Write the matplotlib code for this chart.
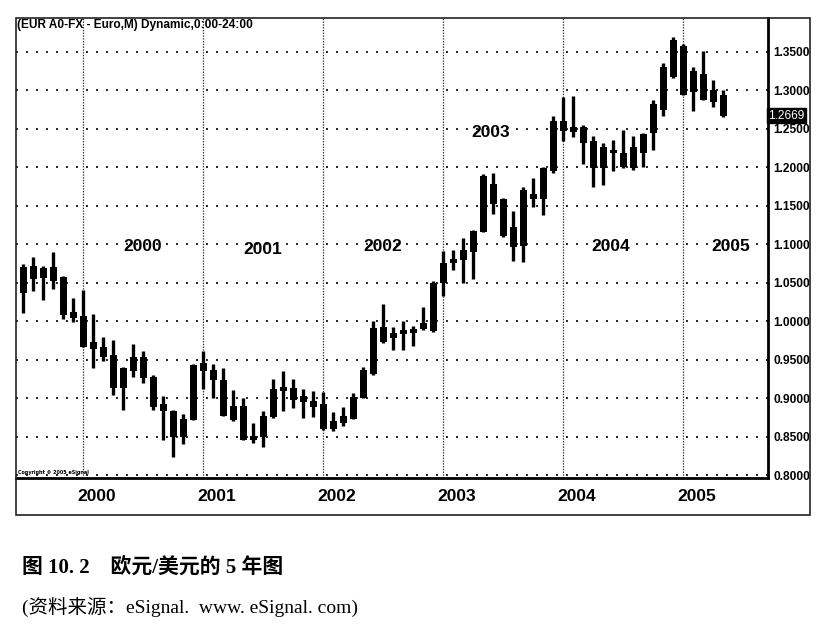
import matplotlib
matplotlib.use("Agg")
import matplotlib.pyplot as plt
from matplotlib.patches import Rectangle

# monthly EUR/USD, Jul 1999 .. May 2005
first_month = (1999, 7)
opens = [1.036, 1.072, 1.056, 1.070, 1.057, 1.012,
         1.007, 0.973, 0.967, 0.956, 0.913, 0.935, 0.954, 0.928, 0.892, 0.883, 0.849, 0.871,
         0.946, 0.937, 0.924, 0.871, 0.890, 0.845, 0.849, 0.875, 0.914, 0.913, 0.903, 0.896,
         0.892, 0.860, 0.868, 0.873, 0.900, 0.931, 0.993, 0.978, 0.983, 0.985, 0.990, 0.987,
         1.049, 1.075, 1.080, 1.090, 1.116, 1.178, 1.159, 1.122, 1.098, 1.165, 1.159, 1.195,
         1.260, 1.252, 1.252, 1.234, 1.199, 1.219, 1.219, 1.199, 1.219, 1.245, 1.274, 1.318,
         1.358, 1.298, 1.322, 1.300, 1.294]
highs = [1.074, 1.083, 1.072, 1.090, 1.059, 1.030,
         1.041, 1.009, 0.980, 0.976, 0.941, 0.970, 0.961, 0.930, 0.903, 0.885, 0.879, 0.944,
         0.961, 0.944, 0.939, 0.910, 0.900, 0.868, 0.883, 0.925, 0.935, 0.925, 0.912, 0.909,
         0.908, 0.882, 0.888, 0.906, 0.941, 1.000, 1.022, 0.993, 1.000, 0.994, 1.019, 1.052,
         1.091, 1.093, 1.108, 1.118, 1.191, 1.193, 1.160, 1.143, 1.174, 1.186, 1.201, 1.267,
         1.291, 1.293, 1.255, 1.241, 1.232, 1.236, 1.249, 1.241, 1.245, 1.287, 1.336, 1.370,
         1.360, 1.330, 1.351, 1.314, 1.300]
lows = [1.011, 1.039, 1.028, 1.042, 1.003, 0.999,
        0.966, 0.939, 0.948, 0.904, 0.885, 0.928, 0.920, 0.885, 0.845, 0.823, 0.840, 0.871,
        0.912, 0.900, 0.877, 0.870, 0.845, 0.841, 0.836, 0.874, 0.883, 0.887, 0.874, 0.875,
        0.858, 0.857, 0.864, 0.873, 0.900, 0.930, 0.971, 0.962, 0.962, 0.968, 0.988, 0.986,
        1.033, 1.066, 1.050, 1.055, 1.116, 1.140, 1.109, 1.078, 1.077, 1.148, 1.138, 1.193,
        1.234, 1.239, 1.204, 1.175, 1.177, 1.195, 1.199, 1.197, 1.201, 1.223, 1.267, 1.316,
        1.294, 1.273, 1.287, 1.278, 1.266]
closes = [1.070, 1.055, 1.069, 1.052, 1.008, 1.004,
          0.967, 0.964, 0.954, 0.913, 0.939, 0.954, 0.926, 0.888, 0.883, 0.849, 0.873, 0.943,
          0.935, 0.924, 0.877, 0.890, 0.845, 0.851, 0.877, 0.912, 0.909, 0.898, 0.895, 0.888,
          0.860, 0.870, 0.877, 0.901, 0.936, 0.991, 0.973, 0.984, 0.988, 0.990, 0.997, 1.049,
          1.076, 1.081, 1.092, 1.117, 1.189, 1.152, 1.111, 1.096, 1.171, 1.159, 1.199, 1.260,
          1.247, 1.246, 1.232, 1.199, 1.226, 1.223, 1.201, 1.226, 1.243, 1.282, 1.331, 1.366,
          1.294, 1.325, 1.287, 1.285, 1.2669]

years = [2000, 2001, 2002, 2003, 2004, 2005]
# in-chart year labels: (year, price level)
inner_years = [2000, 2001, 2002, 2003, 2004, 2005]
inner_levels = [1.097, 1.093, 1.097, 1.245, 1.097, 1.097]
price_ticks = [0.80, 0.85, 0.90, 0.95, 1.00, 1.05, 1.10, 1.15, 1.20, 1.25, 1.30, 1.35]
last_price = closes[-1]

title = "(EUR A0-FX - Euro,M) Dynamic,0:00-24:00"
caption = "图 10. 2　欧元/美元的 5 年图"
source = "(资料来源：eSignal.  www. eSignal. com)"

W, H = 823, 634
plt.rcParams['lines.scale_dashes'] = False
fig = plt.figure(figsize=(W / 100, H / 100), dpi=100)

def fx(px):
    return px / W

def fy(py):
    return 1 - py / H

ax = fig.add_axes([fx(16), fy(478), fx(768 - 16), (478 - 18) / H])
n = len(opens)
xs = list(range(n))

def month_index(year, month=1):
    return (year - first_month[0]) * 12 + (month - first_month[1])

# grid
for p in price_ticks:
    ax.axhline(p, color='#222222', lw=1.4, ls=(0, (1.4, 5.8)), zorder=1)
for y in years:
    ax.axvline(month_index(y), color='#333333', lw=0.9, ls=(0, (1, 1)), zorder=1)

# candles
ax.vlines(xs, lows, highs, color='black', lw=2.4, zorder=3)
bottoms = [min(o, c) for o, c in zip(opens, closes)]
heights = [max(abs(c - o), 0.003) for o, c in zip(opens, closes)]
ax.bar(xs, heights, bottom=bottoms, width=0.7, color='black', zorder=4)

ax.set_xlim(-0.7, 74.5)
ax.set_ylim(0.7961, 1.3942)
ax.set_xticks([])
ax.yaxis.tick_right()
ax.set_yticks(price_ticks)
ax.set_yticklabels(['%.4f' % p for p in price_ticks], fontsize=8.6,
                   fontweight='bold', family='Liberation Sans')
ax.tick_params(axis='y', length=0, pad=4)
for s in ['left', 'top']:
    ax.spines[s].set_visible(False)
for s in ['right', 'bottom']:
    ax.spines[s].set_linewidth(2)

for y, lv in zip(inner_years, inner_levels):
    ax.text(month_index(y) + (6.0 if y < 2003 else 4.8), lv, str(y), fontsize=12.5,
            fontweight='bold', family='Liberation Sans', ha='center', va='center')

ax.text(1.0, last_price, '%.4f' % last_price, transform=ax.get_yaxis_transform(),
        ha='left', va='center', color='white', fontsize=8.6, family='Liberation Sans',
        bbox=dict(boxstyle='square,pad=0.12', fc='black', ec='black'), zorder=6)
ax.text(0.002, 0.006, 'Copyright © 2005 eSignal', transform=ax.transAxes,
        fontsize=3.5, fontweight='bold', va='bottom')

# date strip below the chart
ax2 = fig.add_axes([fx(16), fy(515), fx(768 - 16), 37 / H])
ax2.set_xlim(ax.get_xlim())
ax2.set_ylim(0, 1)
ax2.axis('off')
for y in years:
    ax2.text(month_index(y) + 1.4, 0.5, str(y), fontsize=12.5, fontweight='bold',
             family='Liberation Sans', ha='center', va='center')

# outer frame
fig.patches.append(Rectangle((fx(16), fy(515)), fx(810 - 16), (515 - 18) / H,
                             transform=fig.transFigure, fill=False, ec='#222222', lw=1.2))
fig.text(fx(17), fy(25), title, fontsize=8.6, fontweight='bold',
         family='Liberation Sans', va='center', ha='left')

fig.text(fx(22), fy(568), caption, fontsize=15, fontweight='bold',
         family=['Liberation Serif', 'Noto Sans CJK SC'], va='center', ha='left')
fig.text(fx(22), fy(607), source, fontsize=14,
         family=['Liberation Serif', 'Noto Sans CJK SC'], va='center', ha='left')

fig.savefig('out.png', dpi=100)
